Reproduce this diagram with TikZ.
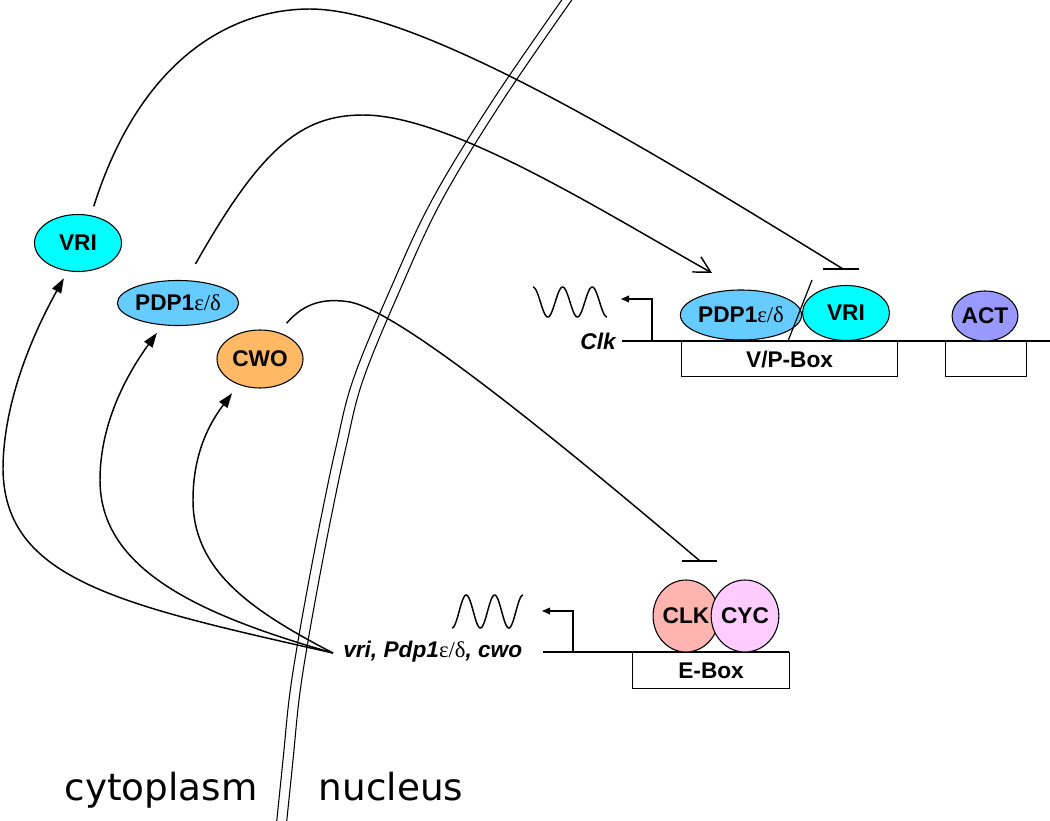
\documentclass[tikz,border=0pt]{standalone}
\usepackage{fontspec}
\setmainfont{Liberation Sans}
\newfontfamily\grk{Liberation Serif}
\newfontfamily\comic{DejaVu Sans}
\usetikzlibrary{arrows.meta,shapes.geometric}
\definecolor{cvri}{RGB}{0,255,255}
\definecolor{cpdp}{RGB}{102,204,255}
\definecolor{ccwo}{RGB}{255,185,100}
\definecolor{cact}{RGB}{153,153,255}
\definecolor{cclk}{RGB}{255,180,175}
\definecolor{ccyc}{RGB}{255,204,255}
\newcommand{\epsdel}{{\grk\mdseries\upshape ε/δ}}
\tikzset{
  prot/.style={ellipse, draw, line width=0.8pt, inner sep=0pt, font=\fontsize{17}{20}\selectfont\bfseries},
  dnabox/.style={draw, fill=white, line width=0.9pt, inner sep=0pt, anchor=north west, font=\fontsize{17}{20}\selectfont\bfseries},
  conn/.style={line width=1.1pt},
  actarrow/.style={-{Triangle[length=11pt,width=7.5pt]}},
  promarrow/.style={-{Triangle[length=6pt,width=5pt]}},
  openarrow/.style={-{Straight Barb[length=12pt,width=13pt,line width=1.1pt]}},
  memline/.style={line width=0.8pt},
  dna/.style={line width=0.9pt},
  lbl/.style={inner sep=0pt, font=\fontsize{17}{20}\selectfont\bfseries\itshape},
  region/.style={inner sep=0pt, anchor=base, font=\comic\fontsize{28}{32}\selectfont}
}
\begin{document}
\begin{tikzpicture}[x=0.75pt,y=-0.75pt]
\useasboundingbox (0,0) rectangle (1050,821);

% membrane
\draw[memline] plot[smooth, tension=0.6] coordinates {(566,-6) (493,100) (432,200) (390,290) (353,380) (336,447) (322,513) (309,580) (297,647) (289,700) (283,760) (276,828)};
\draw[memline, xshift=7.5pt] plot[smooth, tension=0.6] coordinates {(566,-6) (493,100) (432,200) (390,290) (353,380) (336,447) (322,513) (309,580) (297,647) (289,700) (283,760) (276,828)};

% region labels
\node[region] (cyto) at (161,800) {cytoplasm};
\node[region] (nucl) at (391,800) {nucleus};

% upper promoter (Clk)
\node[lbl, anchor=east] (clk) at (616,341) {Clk};
\coordinate (tdna0) at (622,341);
\coordinate (tdna1) at (1052,341);
\draw[dna] (tdna0) -- (tdna1);
\coordinate (tprom) at (652,341);
\coordinate (tpromtip) at (621,299);
\draw[dna, promarrow] (tprom) |- (tpromtip);
\draw[line width=1.1pt] plot[domain=0:5, samples=80] ({533+14.8*\x},{302-15*cos(180*\x)});

\node[dnabox, minimum width=162pt, minimum height=26.25pt] (vpbox) at (681,341) {V/P-Box};
\node[dnabox, minimum width=60.75pt, minimum height=26.25pt] (actbox) at (945,341) {};

\node[prot, fill=cpdp, minimum width=84.75pt, minimum height=37.5pt] (rpdp) at (741,315) {PDP1\epsdel};
\node[prot, fill=cvri, minimum width=65.25pt, minimum height=41.25pt] (rvri) at (846,313) {VRI};
\node[prot, fill=cact, minimum width=45pt, minimum height=37.5pt] (ract) at (985,316) {ACT};
\coordinate (sl0) at (812,280);
\coordinate (sl1) at (788,341);
\draw[line width=0.9pt] (sl0) -- (sl1);

% lower promoter (E-box)
\node[lbl, anchor=west] (genes) at (343,652) {vri, Pdp1\epsdel, cwo};
\coordinate (gs) at (333,653);
\coordinate (bdna0) at (543,652);
\coordinate (bdna1) at (789,652);
\draw[dna] (bdna0) -- (bdna1);
\coordinate (bprom) at (573,652);
\coordinate (bpromtip) at (542,611);
\draw[dna, promarrow] (bprom) |- (bpromtip);
\draw[line width=1.1pt] plot[domain=0:5, samples=80] ({452+14.2*\x},{611.5+16.5*cos(180*\x)});

\node[dnabox, minimum width=117.75pt, minimum height=27pt] (ebox) at (632,652) {E-Box};
\node[prot, fill=cclk, minimum width=46.5pt, minimum height=54pt] (clkp) at (686,616) {CLK};
\node[prot, fill=ccyc, minimum width=44.25pt, minimum height=54pt] (cyc) at (745,616) {CYC};

% cytoplasmic proteins
\node[prot, fill=cvri, minimum width=65.25pt, minimum height=42.75pt] (lvri) at (78,243) {VRI};
\node[prot, fill=cpdp, minimum width=83.25pt, minimum height=33.75pt] (lpdp) at (178,303) {PDP1\epsdel};
\node[prot, fill=ccwo, minimum width=64.5pt, minimum height=43.5pt] (cwo) at (260,359) {CWO};

% translation arrows
\draw[conn, actarrow, shorten >=6pt] (gs) .. controls (120,605) and (5,580) .. (3,470) .. controls (3,400) and (35,330) .. (lvri.250);
\draw[conn, actarrow, shorten >=7pt] (gs) .. controls (200,615) and (100,570) .. (100,480) .. controls (100,420) and (130,370) .. (lpdp.235);
\draw[conn, actarrow, shorten >=8pt] (gs) .. controls (250,610) and (193,570) .. (193,500) .. controls (193,450) and (212,420) .. (cwo.230);

% feedback
\coordinate (vbar) at (843,269);
\draw[conn, shorten <=7pt] (lvri.65) .. controls (140,60) and (230,9) .. (310,9) .. controls (420,9) and (650,150) .. (vbar);
\draw[conn] ([xshift=-15pt]vbar) -- ([xshift=12pt]vbar);

\coordinate (pact) at (712,273);
\draw[conn, openarrow, shorten <=14pt] (lpdp.70) .. controls (260,150) and (300,115) .. (363,115) .. controls (450,115) and (600,210) .. (pact);

\coordinate (ebar) at (700,561);
\draw[conn, shorten <=9pt] (cwo.55) .. controls (305,302) and (325,298) .. (350,302) .. controls (400,312) and (550,434) .. (ebar);
\draw[conn] ([xshift=-13.5pt]ebar) -- ([xshift=12.75pt]ebar);
\end{tikzpicture}
\end{document}
